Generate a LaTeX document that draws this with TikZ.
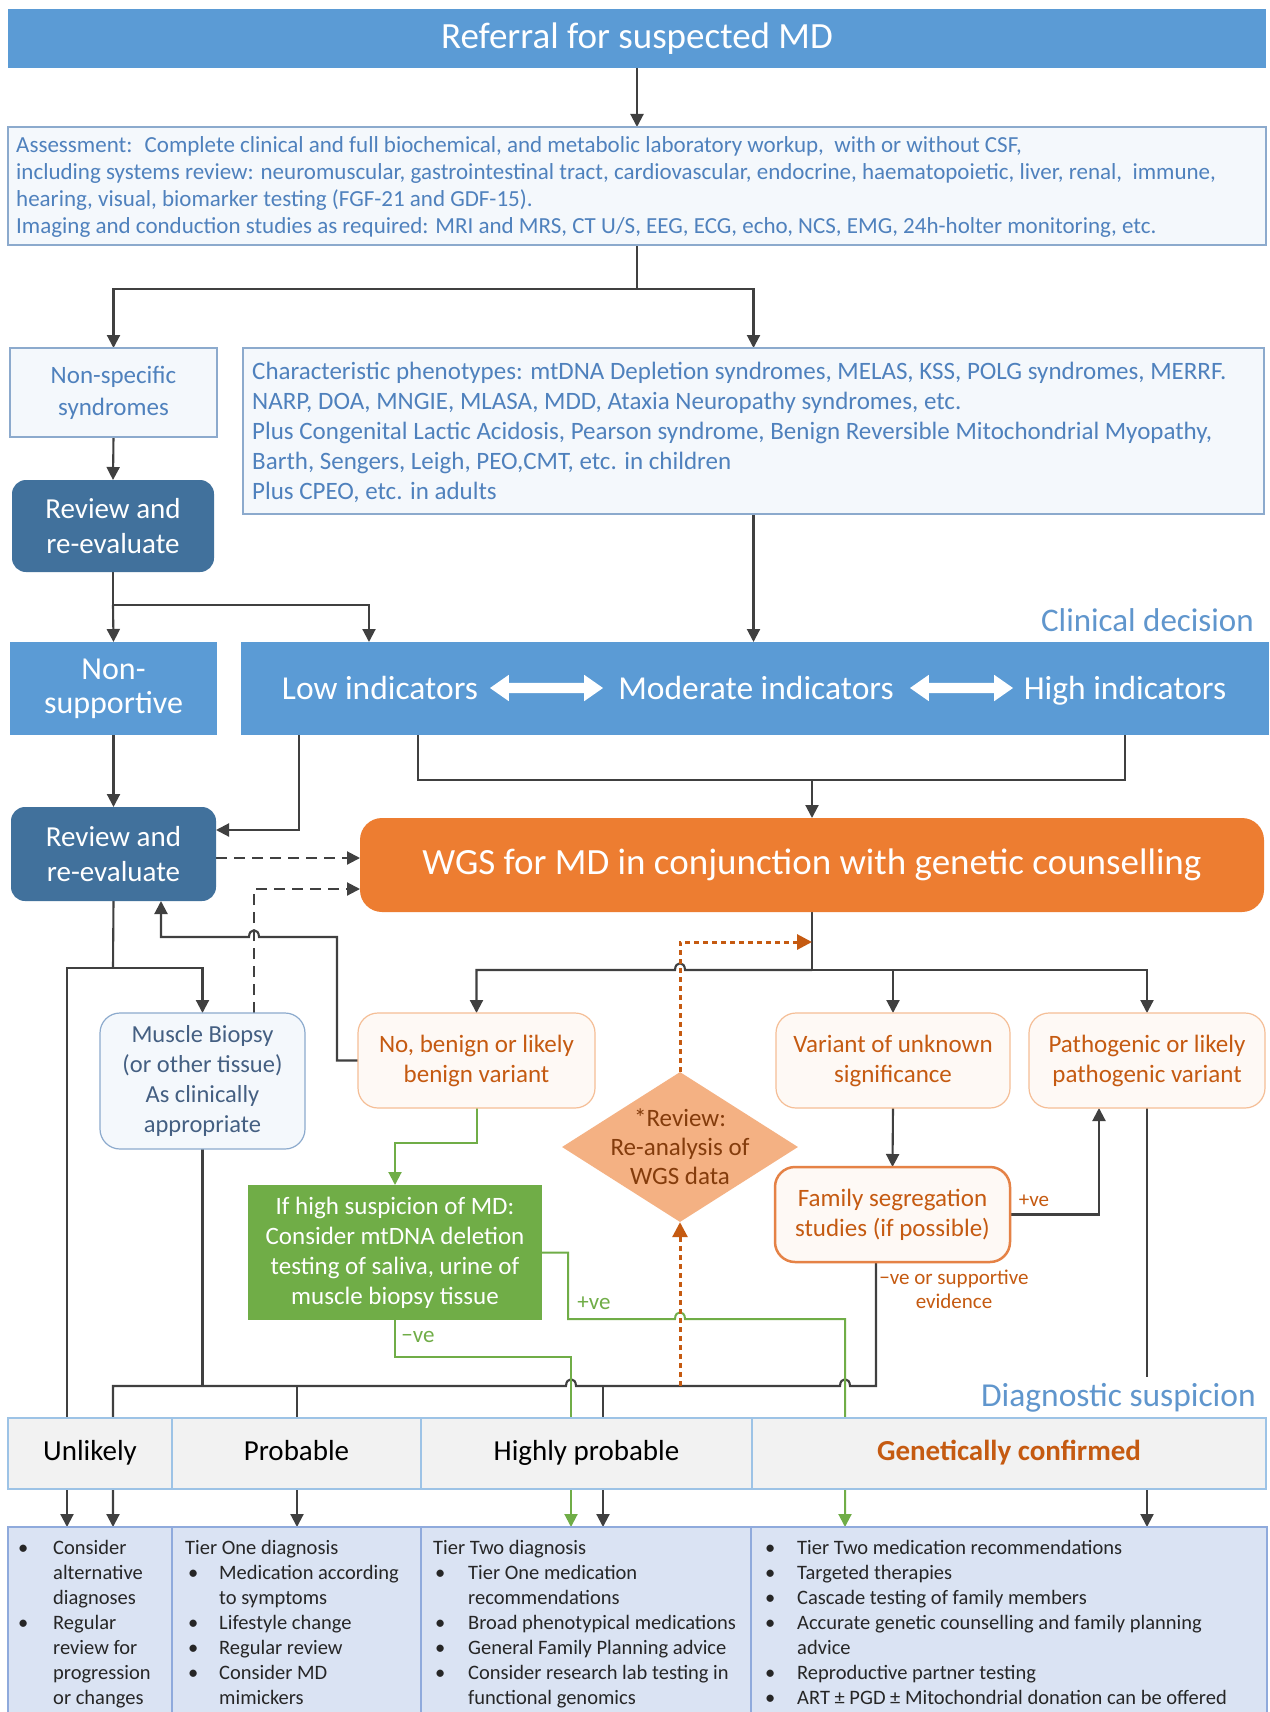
\documentclass[tikz,border=0pt]{standalone}
\usepackage{fontspec}
\setmainfont{Carlito}
\usetikzlibrary{arrows.meta,shapes.geometric,shapes.arrows,backgrounds}
\definecolor{blueA}{RGB}{91,155,213}
\definecolor{blueD}{RGB}{65,113,156}
\definecolor{txtB}{RGB}{79,129,189}
\definecolor{lblB}{RGB}{96,150,205}
\definecolor{bordB}{RGB}{140,170,205}
\definecolor{fillB}{RGB}{244,248,252}
\definecolor{musT}{RGB}{68,95,130}
\definecolor{orA}{RGB}{237,125,49}
\definecolor{orT}{RGB}{197,90,17}
\definecolor{orL}{RGB}{244,177,131}
\definecolor{orB}{RGB}{245,190,150}
\definecolor{orF}{RGB}{254,249,245}
\definecolor{orK}{RGB}{229,130,70}
\definecolor{dmT}{RGB}{132,60,12}
\definecolor{grA}{RGB}{112,173,71}
\definecolor{gyF}{RGB}{242,242,242}
\definecolor{gyB}{RGB}{157,195,230}
\definecolor{btF}{RGB}{218,227,243}
\definecolor{btB}{RGB}{143,170,220}
\definecolor{btT}{RGB}{38,38,38}
\definecolor{lnc}{RGB}{64,64,64}
\newcommand{\fsz}[2]{\fontsize{#1}{#2}\selectfont}
\newcommand{\mybul}[1]{\makebox[#1][l]{•}}
\newcommand{\myind}[1]{\hspace*{#1}}
\tikzset{
  box/.style={inner sep=0pt, outer sep=0pt, anchor=north west},
  conn/.style={draw=lnc, line width=2.1pt},
  arr/.style={conn, -{Triangle[length=13pt,width=13pt]}},
  dsh/.style={arr, dash pattern=on 11pt off 7pt},
  gconn/.style={draw=grA, line width=2pt},
  garr/.style={gconn, -{Triangle[length=13pt,width=13pt]}},
  odot/.style={draw=orT, line width=3pt, dash pattern=on 5pt off 4pt, -{Triangle[length=15pt,width=15pt]}},
  lbox/.style={box, draw=bordB, fill=fillB, line width=1.2pt},
  obox/.style={box, draw=orB, fill=orF, line width=1.2pt, rounded corners=20pt, text=orT, align=center, font=\fsz{25}{30}},
  rbox/.style={box, fill=blueD, rounded corners=14pt, text=white, align=center, font=\fsz{29}{35}},
  gcell/.style={box, fill=gyF, draw=gyB, line width=1.5pt, font=\fsz{29}{32}, text height=20pt, text depth=6pt},
  bcell/.style={box, fill=btF, draw=btB, line width=1.5pt},
  btxt/.style={anchor=north west, inner sep=0pt, align=left, text=btT, font=\fsz{20.5}{25}},
  ind/.style={text=white, font=\fsz{33.5}{38}, inner sep=0pt, anchor=base},
  darr/.style={double arrow, fill=white, draw=none, inner sep=0pt, minimum width=26pt, double arrow head extend=8pt, double arrow tip angle=70}
}
\begin{document}
\begin{tikzpicture}[x=1pt,y=-1pt]
\useasboundingbox (0,0) rectangle (1269,1712);

% top
\node[box, fill=blueA, minimum width=1258pt, minimum height=59pt, text=white, font=\fsz{37}{42}] (top) at (8,9) {Referral for suspected MD};

% assessment
\node[lbox, minimum width=1258pt, minimum height=118pt] (assess) at (8,127) {};
\node[anchor=west, inner sep=0pt, align=left, text=txtB, font=\fsz{23}{26.7}] (assesst) at (16,187) {Assessment:~ Complete clinical and full biochemical, and metabolic laboratory workup,~ with or without CSF,\\including systems review: neuromuscular, gastrointestinal tract, cardiovascular, endocrine, haematopoietic, liver, renal,~ immune,\\hearing, visual, biomarker testing (FGF-21 and GDF-15).\\Imaging and conduction studies as required: MRI and MRS, CT U/S, EEG, ECG, echo, NCS, EMG, 24h-holter monitoring, etc.};

% non-specific and characteristic
\node[lbox, minimum width=207pt, minimum height=89pt, align=center, text=txtB, font=\fsz{25}{32}] (nonspec) at (10,348) {Non-specific\\syndromes};
\node[lbox, minimum width=1021pt, minimum height=166pt] (charph) at (243,348) {};
\node[anchor=west, inner sep=0pt, align=left, text=txtB, font=\fsz{25}{30}] (charpht) at (252,432) {Characteristic phenotypes: mtDNA Depletion syndromes, MELAS, KSS, POLG syndromes, MERRF.\\NARP, DOA, MNGIE, MLASA, MDD, Ataxia Neuropathy syndromes, etc.\\Plus Congenital Lactic Acidosis, Pearson syndrome, Benign Reversible Mitochondrial Myopathy,\\Barth, Sengers, Leigh, PEO,CMT, etc. in children\\Plus CPEO, etc. in adults};

% review 1
\node[rbox, minimum width=202pt, minimum height=92pt] (rev1) at (12,480) {Review and\\re-evaluate};

% clinical decision
\node[anchor=east, inner sep=0pt, text=lblB, font=\fsz{33}{36}] (clin) at (1254,620) {Clinical decision};
\node[box, fill=blueA, minimum width=207pt, minimum height=93pt, text=white, align=center, font=\fsz{32}{34}] (nonsup) at (10,642) {Non-\\supportive};
\node[box, fill=blueA, minimum width=1028pt, minimum height=93pt] (indic) at (241,642) {};
\node[ind] (low) at (380,699) {Low indicators};
\node[ind] (mod) at (756,699) {Moderate indicators};
\node[ind] (high) at (1125,699) {High indicators};
\node[darr, minimum height=113pt] (da1) at (546.5,688) {\rule{0pt}{10pt}};
\node[darr, minimum height=103pt] (da2) at (961.5,688) {\rule{0pt}{10pt}};

% review 2 and WGS
\node[rbox, minimum width=205pt, minimum height=94pt] (rev2) at (11,807) {Review and\\re-evaluate};
\node[box, fill=orA, rounded corners=22pt, minimum width=904pt, minimum height=94pt, text=white, font=\fsz{37}{42}] (wgs) at (360,818) {WGS for MD in conjunction with genetic counselling};

% variant boxes
\node[box, draw=bordB, fill=fillB, line width=1.2pt, rounded corners=20pt, minimum width=205pt, minimum height=136pt, text=musT, align=center, font=\fsz{24.5}{29.7}] (muscle) at (100,1013) {Muscle Biopsy\\(or other tissue)\\As clinically\\appropriate};
\node[obox, minimum width=237pt, minimum height=95pt] (benign) at (358,1013) {No, benign or likely\\benign variant};
\node[obox, minimum width=234pt, minimum height=95pt] (vus) at (776,1013) {Variant of unknown\\significance};
\node[obox, minimum width=236pt, minimum height=95pt] (patho) at (1029,1013) {Pathogenic or likely\\pathogenic variant};
\node[diamond, fill=orL, draw=none, inner sep=0pt, minimum width=236pt, minimum height=150pt] (rev3) at (680,1147) {};
\node[text=dmT, align=center, inner sep=0pt, font=\fsz{25}{29}] (rev3t) at (680,1147) {*Review:\\Re-analysis of\\WGS data};
\node[obox, draw=orK, line width=2.5pt, minimum width=235pt, minimum height=95pt] (family) at (775,1167) {Family segregation\\studies (if possible)};
\node[box, fill=grA, minimum width=294pt, minimum height=135pt, text=white, align=center, font=\fsz{25}{30}] (green) at (248,1185) {If high suspicion of MD:\\Consider mtDNA deletion\\testing of saliva, urine of\\muscle biopsy tissue};

% labels
\node[text=grA, inner sep=0pt, font=\fsz{23}{28}] (lneg) at (418,1337) {−ve};
\node[text=grA, inner sep=0pt, font=\fsz{23}{28}] (lpos) at (594,1303) {+ve};
\node[text=orT, inner sep=0pt, font=\fsz{21}{24}] (lfpos) at (1034,1201) {+ve};
\node[text=orT, inner sep=0pt, align=center, font=\fsz{21}{24}] (lfneg) at (954,1289) {−ve or supportive\\evidence};
\node[anchor=east, inner sep=0pt, text=lblB, font=\fsz{33.5}{36}] (diag) at (1256,1398) {Diagnostic suspicion};

% diagnostic suspicion bar
\node[gcell, minimum width=164pt, minimum height=71pt] (g1) at (8,1418) {Unlikely};
\node[gcell, minimum width=249pt, minimum height=71pt] (g2) at (172,1418) {Probable};
\node[gcell, minimum width=331pt, minimum height=71pt] (g3) at (421,1418) {Highly probable};
\node[gcell, minimum width=514pt, minimum height=71pt, text=orT, font=\fsz{29}{32}\bfseries] (g4) at (752,1418) {Genetically confirmed};

% bottom boxes
\node[bcell, minimum width=164pt, minimum height=190pt] (b1) at (8,1527) {};
\node[bcell, minimum width=249pt, minimum height=190pt] (b2) at (172,1527) {};
\node[bcell, minimum width=330pt, minimum height=190pt] (b3) at (421,1527) {};
\node[bcell, minimum width=516pt, minimum height=190pt] (b4) at (751,1527) {};
\node[btxt] (t1) at (18,1540) {\mybul{35pt}Consider\\\myind{35pt}alternative\\\myind{35pt}diagnoses\\\mybul{35pt}Regular\\\myind{35pt}review for\\\myind{35pt}progression\\\myind{35pt}or changes};
\node[btxt] (t2) at (185,1540) {Tier One diagnosis\\\myind{3pt}\mybul{31pt}Medication according\\\myind{34pt}to symptoms\\\myind{3pt}\mybul{31pt}Lifestyle change\\\myind{3pt}\mybul{31pt}Regular review\\\myind{3pt}\mybul{31pt}Consider MD\\\myind{34pt}mimickers};
\node[btxt] (t3) at (433,1540) {Tier Two diagnosis\\\myind{2pt}\mybul{33pt}Tier One medication\\\myind{35pt}recommendations\\\myind{2pt}\mybul{33pt}Broad phenotypical medications\\\myind{2pt}\mybul{33pt}General Family Planning advice\\\myind{2pt}\mybul{33pt}Consider research lab testing in\\\myind{35pt}functional genomics};
\node[btxt] (t4) at (765,1540) {\mybul{32pt}Tier Two medication recommendations\\\mybul{32pt}Targeted therapies\\\mybul{32pt}Cascade testing of family members\\\mybul{32pt}Accurate genetic counselling and family planning\\\myind{32pt}advice\\\mybul{32pt}Reproductive partner testing\\\mybul{32pt}ART ± PGD ± Mitochondrial donation can be offered};

% coordinates
\coordinate (j1) at (637,289);
\coordinate (j2) at (113,605);
\coordinate (lowin) at (369,642);
\coordinate (c1) at (299,735);
\coordinate (c1e) at (216,830);
\coordinate (c2) at (418,735);
\coordinate (c3) at (1125,735);
\coordinate (c4) at (812,780);
\coordinate (dsa) at (216,858);
\coordinate (dsb) at (360,858);
\coordinate (mt) at (254,1013);
\coordinate (dsc) at (360,889);
\coordinate (r2b) at (161,901);
\coordinate (j3) at (113,968);
\coordinate (u1) at (67,1527);
\coordinate (j4) at (812,970);
\coordinate (j5) at (812,942);
\coordinate (d0) at (680,1386);
\coordinate (pb) at (1099,1108);
\coordinate (fb) at (876,1262);
\coordinate (u2) at (113,1527);
\coordinate (p1) at (297,1386);
\coordinate (p2) at (297,1527);
\coordinate (h1) at (603,1386);
\coordinate (h2) at (603,1527);
\coordinate (mj) at (202.5,1386);
\coordinate (pt1) at (1147,1377);
\coordinate (pt2) at (1147,1489);
\coordinate (pt3) at (1147,1527);
\coordinate (gn) at (571,1527);
\coordinate (gp) at (845,1527);

% connectors
\begin{scope}[on background layer]
\fill[white] (0,0) rectangle (1269,1712);
\draw[arr] (top.south) -- (assess.north);
\draw[conn] (assess.south) -- (j1);
\draw[arr] (j1) -| (nonspec.north);
\draw[arr] (j1) -| (charph.north);
\draw[arr] (nonspec.south) -- (rev1.north);
\draw[conn] (rev1.south) -- (j2);
\draw[arr] (j2) -- (nonsup.north);
\draw[arr] (j2) -| (lowin);
\draw[arr] (charph.south) -- (charph.south |- indic.north);
\draw[arr] (nonsup.south) -- (rev2.north);
\draw[arr] (c1) |- (c1e);
\draw[conn] (c2) |- (c4) -| (c3);
\draw[arr] (c4) -- (wgs.north);
\draw[dsh] (dsa) -- (dsb);
\draw[dsh] (mt) |- (dsc);
\draw[arr] (benign.west) -- (337,1060.5) -- (337,937) -- (259,937) .. controls (259,928) and (249,928) .. (249,937) -- (161,937) -- (r2b);
\draw[conn] (rev2.south) -- (j3);
\draw[arr] (j3) -| (muscle.north);
\draw[arr] (j3) -| (u1);
\draw[conn] (wgs.south) -- (j4);
\draw[arr] (j4) -- (685,970) .. controls (685,961) and (675,961) .. (675,970) -| (benign.north);
\draw[arr] (j4) -| (vus.north);
\draw[arr] (j4) -| (patho.north);
\draw[arr] (vus.south) -- (family.north);
\draw[arr] (family.east) -| (pb);
\draw[arr] (fb) -- (876,1386) -- (850,1386) .. controls (850,1377) and (840,1377) .. (840,1386) -- (576,1386) .. controls (576,1377) and (566,1377) .. (566,1386) -- (113,1386) -- (u2);
\draw[arr] (p1) -- (p2);
\draw[arr] (h1) -- (h2);
\draw[conn] (muscle.south) -- (mj);
\draw[conn] (patho.south) -- (pt1);
\draw[arr] (pt2) -- (pt3);
\draw[garr] (benign.south) -- (476.5,1143) -| (green.north);
\draw[garr] (green.south) -- (395,1357) -| (gn);
\draw[garr] (green.east) -- (568,1252.5) -- (568,1319) -- (675,1319) .. controls (675,1310) and (685,1310) .. (685,1319) -- (845,1319) -- (gp);
\draw[odot] (rev3.north) |- (j5);
\draw[odot] (d0) -- (rev3.south);
\end{scope}
\end{tikzpicture}
\end{document}
